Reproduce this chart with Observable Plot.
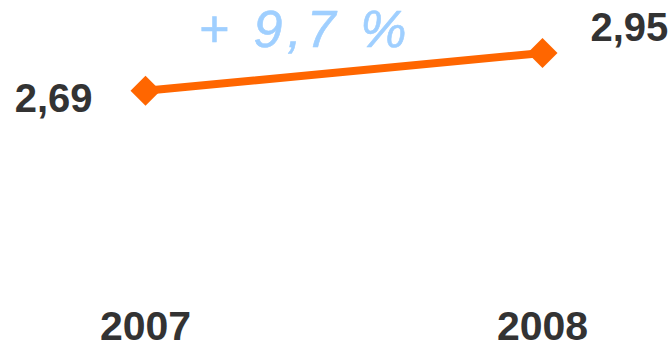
<!DOCTYPE html>
<html>
<head>
<meta charset="utf-8">
<script src="https://cdn.jsdelivr.net/npm/d3@7"></script>
<script src="https://cdn.jsdelivr.net/npm/@observablehq/plot@0.6"></script>
<style>
  html, body { margin: 0; padding: 0; background: #fff; }
  svg { display: block; }
</style>
</head>
<body>
<div id="chart"></div>
<script>
const years = [2007, 2008];
const values = [2.69, 2.95];
const valueLabels = ["2,69", "2,95"];
const changeLabel = "+ 9,7 %";

const data = years.map((year, i) => ({year, value: values[i], label: valueLabels[i]}));

const font = "'Liberation Sans', Arial, Helvetica, sans-serif";

const chart = Plot.plot({
  width: 671,
  height: 344,
  marginLeft: 145,
  marginRight: 129,
  marginTop: 0,
  marginBottom: 44,
  style: {fontFamily: font, background: "#fff", overflow: "visible"},
  x: {domain: [2007, 2008], axis: null},
  y: {domain: [1.25, 3.31], axis: null},
  marks: [
    Plot.axisX({
      ticks: years,
      tickSize: 0,
      tickPadding: 10,
      label: null,
      tickFormat: d => String(d),
      fontSize: 41,
      fontWeight: "bold",
      fill: "#333333"
    }),
    Plot.line(data, {x: "year", y: "value", stroke: "#ff6600", strokeWidth: 8}),
    Plot.dot(data, {x: "year", y: "value", symbol: "diamond2", r: 13.5, fill: "#ff6600", stroke: "none"}),
    Plot.text([data[0]], {x: "year", y: "value", text: "label", textAnchor: "end", dx: -53, dy: 8,
      fontSize: 40, fontWeight: "bold", fill: "#333333"}),
    Plot.text([data[1]], {x: "year", y: "value", text: "label", textAnchor: "start", dx: 48, dy: -25,
      fontSize: 40, fontWeight: "bold", fill: "#333333"}),
    Plot.text([changeLabel], {frameAnchor: "top", text: d => d, lineAnchor: "middle", dy: 30, dx: -39,
      fontSize: 52, fontStyle: "italic", fontWeight: 500, fill: "#9fcfff", stroke: "#9fcfff", strokeWidth: 0.6, className: "pct"})
  ]
});

d3.select(chart).selectAll(".pct text").style("letter-spacing", "5px");
document.getElementById("chart").appendChild(chart);
</script>
</body>
</html>
